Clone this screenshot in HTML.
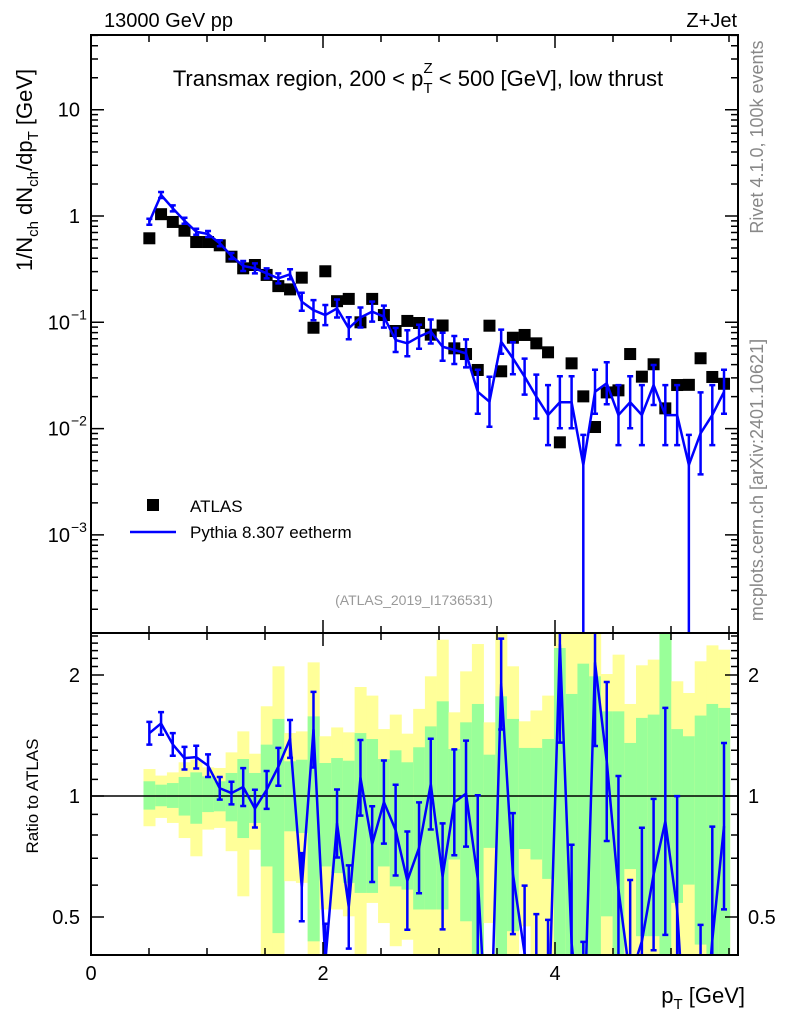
<!DOCTYPE html>
<html><head><meta charset="utf-8"><style>
html,body{margin:0;padding:0;background:#fff;width:786px;height:1024px;overflow:hidden;}
svg{display:block;font-family:"Liberation Sans",Arial,sans-serif;}
</style></head><body>
<svg id="chart" width="786" height="1024" viewBox="0 0 786 1024" xmlns="http://www.w3.org/2000/svg">
<defs>
<clipPath id="clipMain"><rect x="91" y="35" width="647" height="598"/></clipPath>
<clipPath id="clipRatio"><rect x="91" y="633" width="647" height="322"/></clipPath>
</defs>
<g id="ratioBands" clip-path="url(#clipRatio)"></g>
<g id="mainMarks" clip-path="url(#clipMain)"></g>
<g id="ratioMarks" clip-path="url(#clipRatio)"></g>
<g id="axes"></g>
<text x="104" y="27" font-size="20">13000 GeV pp</text>
<text x="737" y="27" font-size="20" text-anchor="end">Z+Jet</text>
<text x="418" y="86" font-size="22" text-anchor="middle">Transmax region, 200 &lt; p<tspan font-size="15" dy="7">T</tspan><tspan font-size="15" dx="-9" dy="-20">Z</tspan><tspan dy="13"> &lt; 500 [GeV], low thrust</tspan></text>
<text transform="translate(32,170) rotate(-90)" font-size="22" text-anchor="middle">1/N<tspan font-size="15" dy="6">ch</tspan><tspan dy="-6"> dN</tspan><tspan font-size="15" dy="6">ch</tspan><tspan dy="-6">/dp</tspan><tspan font-size="15" dy="6">T</tspan><tspan dy="-6"> [GeV]</tspan></text>
<text transform="translate(38,796) rotate(-90)" font-size="17" text-anchor="middle">Ratio to ATLAS</text>
<text x="745" y="1003" font-size="22" text-anchor="end">p<tspan font-size="15" dy="6">T</tspan><tspan dy="-6"> [GeV]</tspan></text>
<text transform="translate(763,137) rotate(-90)" font-size="18" fill="#888" text-anchor="middle">Rivet 4.1.0,  100k events</text>
<text transform="translate(763,480) rotate(-90)" font-size="18" fill="#888" text-anchor="middle">mcplots.cern.ch [arXiv:2401.10621]</text>
<text x="414" y="605" font-size="14" fill="#999" text-anchor="middle">(ATLAS_2019_I1736531)</text>
<g>
<rect x="147" y="499" width="12" height="12" fill="#000"/>
<text x="190" y="512" font-size="17">ATLAS</text>
<line x1="130" y1="532" x2="176" y2="532" stroke="#0000ff" stroke-width="2.5"/>
<text x="190" y="538" font-size="17">Pythia 8.307 eetherm</text>
</g>
</svg>
<script>
const xVals=[0.503,0.604,0.705,0.806,0.907,1.009,1.110,1.211,1.312,1.413,1.514,1.615,1.716,1.817,1.918,2.020,2.121,2.222,2.323,2.424,2.525,2.626,2.727,2.828,2.929,3.031,3.132,3.233,3.334,3.435,3.536,3.637,3.738,3.839,3.940,4.042,4.143,4.244,4.345,4.446,4.547,4.648,4.749,4.850,4.951,5.053,5.154,5.255,5.356,5.457];
const atlasVals=[0.617,1.04,0.879,0.727,0.569,0.569,0.530,0.414,0.322,0.346,0.279,0.219,0.204,0.263,0.0889,0.302,0.158,0.166,0.100,0.166,0.117,0.0828,0.103,0.0985,0.0765,0.0933,0.0569,0.0503,0.0356,0.0929,0.0346,0.0716,0.0760,0.0634,0.0522,0.00743,0.0411,0.0201,0.01035,0.0219,0.0229,0.0503,0.0308,0.0403,0.0155,0.0257,0.0258,0.0459,0.0306,0.0264];
const mcVals=[0.884,1.576,1.181,0.903,0.711,0.677,0.554,0.421,0.339,0.322,0.289,0.259,0.283,0.156,0.130,0.117,0.135,0.0879,0.111,0.126,0.113,0.0681,0.0634,0.0732,0.0819,0.0589,0.0549,0.0510,0.0222,0.0179,0.0657,0.0459,0.0308,0.0200,0.0134,0.0177,0.0177,0.00455,0.0222,0.0267,0.0134,0.0177,0.0134,0.0257,0.0134,0.0134,0.00455,0.00903,0.0134,0.0222];
const mcErrUp=[0.067,0.067,0.067,0.067,0.067,0.067,0.067,0.067,0.114,0.114,0.114,0.114,0.114,0.215,0.242,0.242,0.215,0.269,0.242,0.242,0.269,0.297,0.326,0.297,0.297,0.354,0.354,0.354,0.611,0.718,0.297,0.414,0.477,0.611,0.916,0.756,0.756,0.916,0.611,0.576,0.916,0.756,0.916,0.542,0.916,0.916,0.916,1.43,0.916,0.611];
const mcErrDn=[0.063,0.063,0.063,0.063,0.063,0.063,0.063,0.063,0.103,0.103,0.103,0.103,0.103,0.177,0.195,0.195,0.177,0.212,0.195,0.195,0.212,0.229,0.245,0.229,0.229,0.262,0.262,0.262,0.379,0.418,0.229,0.293,0.323,0.379,0.478,0.430,0.430,1.0,0.379,0.366,0.478,0.430,0.478,0.352,0.478,0.478,1.0,0.589,0.478,0.379];
const bandYellowHi=[1.167,1.124,1.145,1.213,1.231,1.178,1.174,1.284,1.448,1.274,1.672,2.102,1.434,1.448,2.150,1.408,1.481,1.440,1.867,1.777,1.467,1.594,1.429,1.647,1.985,2.448,1.615,2.042,2.388,1.525,2.6,2.102,1.534,1.632,1.777,2.6,2.6,2.6,2.6,2.011,2.247,1.694,2.114,2.184,2.6,1.929,1.804,2.163,2.370,2.312];
const bandGreenHi=[1.088,1.067,1.077,1.115,1.145,1.119,1.088,1.141,1.236,1.141,1.342,1.555,1.220,1.231,1.578,1.208,1.243,1.224,1.434,1.386,1.236,1.299,1.213,1.322,1.490,1.720,1.309,1.525,1.694,1.267,1.770,1.555,1.317,1.317,1.386,2.334,1.794,2.134,1.985,1.624,1.624,1.355,1.564,1.594,2.6,1.467,1.408,1.585,1.694,1.656];
const bandGreenLo=[0.925,0.943,0.934,0.894,0.853,0.912,0.916,0.865,0.786,0.857,0.668,0.456,0.817,0.809,0.435,0.668,0.643,0.608,0.574,0.574,0.668,0.596,0.585,0.522,0.522,0.522,0.695,0.488,0.39,0.743,0.39,0.461,0.738,0.695,0.622,0.39,0.39,0.39,0.39,0.502,0.39,0.658,0.448,0.448,0.39,0.542,0.602,0.427,0.39,0.39];
const bandYellowLo=[0.841,0.882,0.857,0.786,0.708,0.825,0.833,0.729,0.563,0.735,0.39,0.39,0.614,0.608,0.39,0.522,0.522,0.502,0.39,0.542,0.483,0.423,0.439,0.39,0.39,0.39,0.39,0.39,0.39,0.483,0.39,0.39,0.474,0.39,0.39,0.39,0.39,0.39,0.39,0.39,0.39,0.39,0.39,0.39,0.39,0.39,0.39,0.39,0.39,0.39];
const xTickMajor=[0,2,4];
const xTickLabels=["0","2","4"];

const NS="http://www.w3.org/2000/svg";
const X=v=>91+v*116;
const YM=v=>216-106.3*Math.log10(v);
const YR=r=>796-402*Math.log10(r);
function mk(tag,attrs,parent){const e=document.createElementNS(NS,tag);for(const k in attrs)e.setAttribute(k,attrs[k]);parent.appendChild(e);return e;}
const bands=document.getElementById('ratioBands');
const mainG=document.getElementById('mainMarks');
const ratG=document.getElementById('ratioMarks');
const axG=document.getElementById('axes');
const n=xVals.length;
function edges(i){const l=i>0?(xVals[i]+xVals[i-1])/2:xVals[0]-(xVals[1]-xVals[0])/2;const r=i<n-1?(xVals[i]+xVals[i+1])/2:xVals[i]+(xVals[i]-xVals[i-1])/2;return [X(l),X(r)];}
const clampR=r=>Math.max(0.3,Math.min(3,r));
for(let i=0;i<n;i++){
 const [l,r]=edges(i);
 const yb=mk('rect',{x:l,y:YR(clampR(bandYellowHi[i])),width:r-l+0.3,height:YR(clampR(bandYellowLo[i]))-YR(clampR(bandYellowHi[i])),fill:'#ffff99'},bands);
 
 
 const gb=mk('rect',{x:l,y:YR(clampR(bandGreenHi[i])),width:r-l+0.3,height:YR(clampR(bandGreenLo[i]))-YR(clampR(bandGreenHi[i])),fill:'#99ff99'},bands);
 
 
}
for(let i=0;i<n;i++){
 const s=mk('rect',{x:X(xVals[i])-6,y:YM(atlasVals[i])-6,width:12,height:12,fill:'#000'},mainG);
 
 
}
function errBar(g,x,yt,yb,name){
 const e=mk('path',{d:`M${x},${yt}V${yb}M${x-3},${yt}H${x+3}M${x-3},${yb}H${x+3}`,stroke:'#0000ff','stroke-width':2.5,fill:'none'},g);
 
 
}
let d='';
for(let i=0;i<n;i++){
 const x=X(xVals[i]),v=mcVals[i];
 const hi=v*(1+mcErrUp[i]);const lo=mcErrDn[i]>=1?1e-6:v*(1-mcErrDn[i]);
 errBar(mainG,x,YM(hi),Math.min(700,YM(lo)),'mc-errorbar-'+i);
 d+=(i?'L':'M')+x+','+YM(v);
}
const ml=mk('path',{d:d,stroke:'#0000ff','stroke-width':2.5,fill:'none','stroke-linejoin':'round'},mainG);


const one=mk('line',{x1:91,x2:738,y1:YR(1),y2:YR(1),stroke:'#000','stroke-width':1.5},ratG);


let rd='';
for(let i=0;i<n;i++){
 const x=X(xVals[i]);const r=mcVals[i]/atlasVals[i];
 const hi=r*(1+mcErrUp[i]);const lo=mcErrDn[i]>=1?1e-3:r*(1-mcErrDn[i]);
 errBar(ratG,x,Math.max(620,YR(hi)),Math.min(1000,YR(lo)),'ratio-errorbar-'+i);
 rd+=(i?'L':'M')+x+','+Math.max(-500,Math.min(1600,YR(r)));
}
const rl=mk('path',{d:rd,stroke:'#0000ff','stroke-width':2.5,fill:'none','stroke-linejoin':'round'},ratG);


const f1=mk('rect',{x:91,y:35,width:647,height:598,fill:'none',stroke:'#000','stroke-width':2},axG);


const f2=mk('rect',{x:91,y:633,width:647,height:322,fill:'none',stroke:'#000','stroke-width':2},axG);


let tk='';
for(let v=0;v<=5.5;v+=0.5){
 const x=X(v);const major=Math.abs(v-Math.round(v/2)*2)<1e-6;const L=major?13:7;
 for(const [yt,yb] of [[35,633],[633,955]]){tk+=`M${x},${yt}v${L}M${x},${yb}v${-L}`;}
}
for(let e=-4;e<=1;e++){for(let m=1;m<10;m++){const v=m*Math.pow(10,e);const y=YM(v);if(y<35||y>633)continue;const L=m===1?13:7;tk+=`M91,${y}h${L}M738,${y}h${-L}`;}}
for(const r of [0.4,0.5,0.6,0.7,0.8,0.9,1,1.1,1.2,1.3,1.4,1.5,1.6,1.7,1.8,1.9,2,2.1,2.2,2.3,2.4,2.5]){const y=YR(r);if(y<633||y>955)continue;const L=(r===0.5||r===1||r===2)?13:7;tk+=`M91,${y}h${L}M738,${y}h${-L}`;}
const tp=mk('path',{d:tk,stroke:'#000','stroke-width':1.5,fill:'none'},axG);


for(let i=0;i<xTickMajor.length;i++){
 const t=mk('text',{x:X(xTickMajor[i]),y:980,'font-size':20,'text-anchor':'middle'},axG);t.textContent=xTickLabels[i];
 
 
}
const yLabs=[[10,'10',null],[1,'1',null],[0.1,'10','−1'],[0.01,'10','−2'],[0.001,'10','−3']];
for(const [v,b,ex] of yLabs){
 const t=mk('text',{x:ex?70:80,y:YM(v)+7,'font-size':20,'text-anchor':'end'},axG);t.textContent=b;
 
 
 if(ex){const s=mk('text',{x:71,y:YM(v)-3,'font-size':14},axG);s.textContent=ex;
 
 }
}
for(const [r,lab] of [[2,'2'],[1,'1'],[0.5,'0.5']]){
 const t=mk('text',{x:80,y:YR(r)+7,'font-size':20,'text-anchor':'end'},axG);t.textContent=lab;
 
 
 const t2=mk('text',{x:748,y:YR(r)+7,'font-size':20},axG);t2.textContent=lab;
 
 
}
</script>
</body></html>
